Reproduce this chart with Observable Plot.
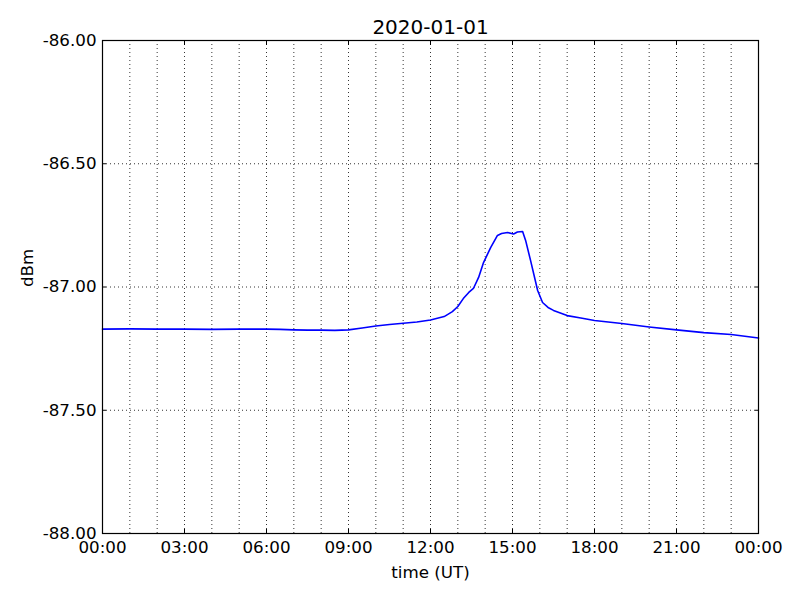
<!DOCTYPE html>
<html>
<head>
<meta charset="utf-8">
<script src="https://cdn.jsdelivr.net/npm/d3@7"></script>
<script src="https://cdn.jsdelivr.net/npm/@observablehq/plot@0.6"></script>
<style>
  html, body { margin: 0; padding: 0; background: #fff; }
  svg { font-family: "DejaVu Sans", sans-serif; }
</style>
</head>
<body>
<div id="chart"></div>
<script>
const title = "2020-01-01";
const xLabel = "time (UT)";
const yLabel = "dBm";

// time in hours UT, received power in dBm
const hours = [0, 1, 2, 3, 4, 5, 6, 6.5, 7, 7.5, 8, 8.5, 9, 9.5, 10, 10.5, 11, 11.5, 12, 12.5,
  12.8, 13.0, 13.2, 13.4, 13.57, 13.76, 13.94, 14.2, 14.45, 14.6, 14.82, 15.04, 15.18, 15.37,
  15.48, 15.66, 15.92, 16.1, 16.3, 16.5, 17, 17.5, 18, 19, 20, 21, 22, 23, 24];
const dbm = [-87.171, -87.170, -87.171, -87.171, -87.172, -87.171, -87.171, -87.172, -87.174,
  -87.175, -87.175, -87.176, -87.174, -87.166, -87.158, -87.152, -87.147, -87.142, -87.134,
  -87.120, -87.100, -87.079, -87.047, -87.022, -87.006, -86.961, -86.901, -86.840, -86.791,
  -86.783, -86.779, -86.785, -86.777, -86.775, -86.811, -86.892, -87.014, -87.063, -87.083,
  -87.095, -87.116, -87.126, -87.136, -87.148, -87.162, -87.174, -87.185, -87.193, -87.207];

const xTicks = [0, 3, 6, 9, 12, 15, 18, 21, 24];
const xGrid = d3.range(0, 25);
const yTicks = [-88, -87.5, -87, -86.5, -86];

const data = hours.map((h, i) => ({h, v: dbm[i]}));
const fmtX = h => String(h % 24).padStart(2, "0") + ":00";
const fmtY = v => d3.format(".2f")(v).replace("\u2212", "-");

const chart = Plot.plot({
  width: 800,
  height: 600,
  marginLeft: 102,
  marginRight: 42,
  marginTop: 40,
  marginBottom: 67,
  style: {fontFamily: "DejaVu Sans, sans-serif", fontSize: "16.7px", color: "#000", background: "#fff"},
  x: {domain: [0, 24]},
  y: {domain: [-88, -86]},
  marks: [
    Plot.gridX(xGrid, {stroke: "#000", strokeOpacity: 1, strokeWidth: 0.8, strokeDasharray: "1,3"}),
    Plot.gridY(yTicks, {stroke: "#000", strokeOpacity: 1, strokeWidth: 0.8, strokeDasharray: "1,3"}),
    Plot.line(data, {x: "h", y: "v", stroke: "#0000ff", strokeWidth: 1.6}),
    Plot.axisX(xTicks, {anchor: "bottom", tickSize: 0, tickPadding: 8, tickFormat: fmtX, label: null, fontSize: 16.7}),
    Plot.axisX(xTicks, {anchor: "bottom", tickSize: -4, tickFormat: () => "", label: null}),
    Plot.axisX(xTicks, {anchor: "top", tickSize: -4, tickFormat: () => "", label: null}),
    Plot.axisY(yTicks, {anchor: "left", tickSize: 0, tickPadding: 6, tickFormat: fmtY, label: null, fontSize: 16.7}),
    Plot.axisY(yTicks, {anchor: "left", tickSize: -4, tickFormat: () => "", label: null}),
    Plot.axisY(yTicks, {anchor: "right", tickSize: -4, tickFormat: () => "", label: null}),
    Plot.frame({stroke: "#000", strokeWidth: 1.2}),
    Plot.text([title], {frameAnchor: "top", dy: -21, fontSize: 20, fill: "#000"}),
    Plot.text([xLabel], {frameAnchor: "bottom", dy: 44, fontSize: 16.7, fill: "#000"}),
    Plot.text([yLabel], {frameAnchor: "left", dx: -75, rotate: -90, fontSize: 16.7, fill: "#000"})
  ]
});
document.getElementById("chart").appendChild(chart);
</script>
</body>
</html>
